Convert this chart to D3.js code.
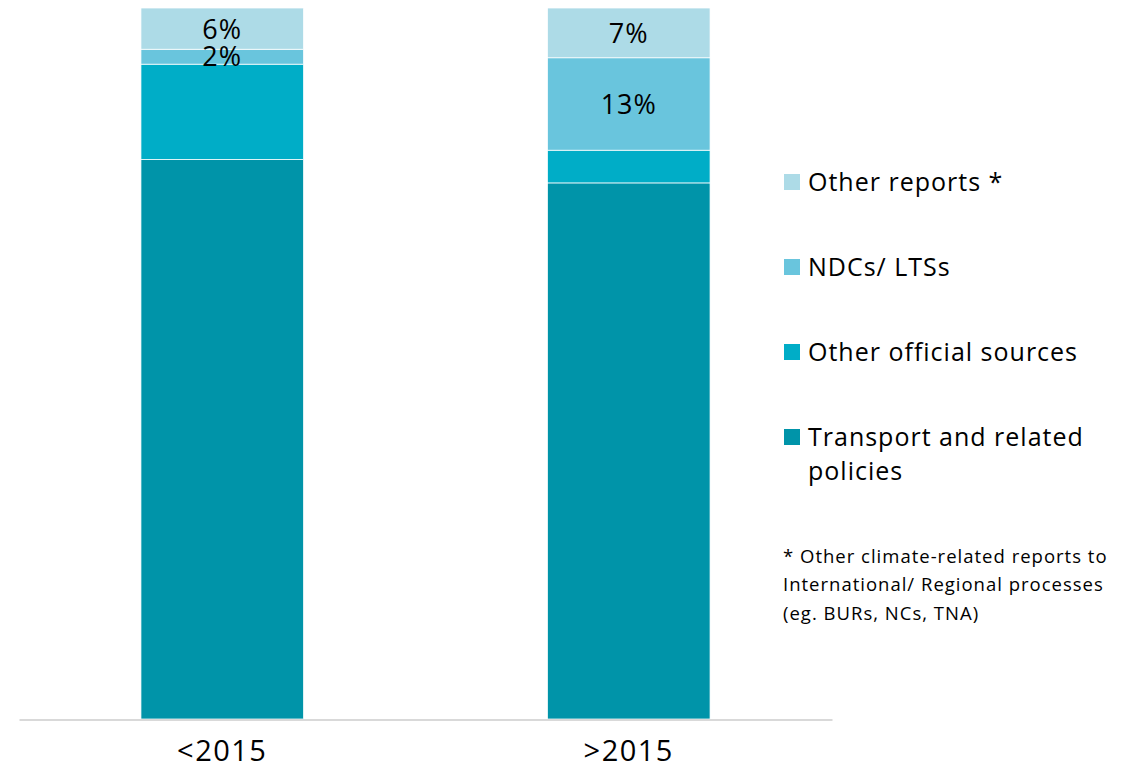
<!DOCTYPE html>
<html><head><meta charset="utf-8">
<script src="https://cdn.jsdelivr.net/npm/d3@7"></script>
<style>body{margin:0;background:#fff;} svg{display:block;}</style>
</head><body>
<svg id="c" width="1141" height="770"></svg>
<script>
const categories = ["<2015", ">2015"];
const seriesNames = ["Transport and related policies", "Other official sources", "NDCs/ LTSs", "Other reports *"];
const transport = [78.7, 75.4];
const otherOfficial = [13.4, 4.6];
const ndcs = [2.1, 13.0];
const otherReports = [5.8, 7.0];
const shownLabels = [[null, null, "2%", "6%"], [null, null, "13%", "7%"]];
const colors = ["#0094A9", "#00ADC7", "#69C5DD", "#ADDBE7"];
const footnote = ["* Other climate-related reports to", "International/ Regional processes", "(eg. BURs, NCs, TNA)"];

const font = "'Open Sans', 'Noto Sans', sans-serif";
const svg = d3.select("#c");
const rows = categories.map((c, i) => ({cat: c, s0: transport[i], s1: otherOfficial[i], s2: ndcs[i], s3: otherReports[i]}));
const keys = ["s0", "s1", "s2", "s3"];
const stack = d3.stack().keys(keys)(rows);

const x = d3.scaleBand().domain(categories).range([19, 832]).paddingInner(0.6).paddingOuter(0.3);
const y = d3.scaleLinear().domain([0, 100]).range([719, 8]);

stack.forEach((layer, li) => {
  svg.append("g").selectAll("rect").data(layer).join("rect")
    .attr("x", d => x(d.data.cat))
    .attr("width", x.bandwidth())
    .attr("y", d => y(d[1]))
    .attr("height", d => y(d[0]) - y(d[1]))
    .attr("fill", colors[li])
    .attr("stroke", "#fff").attr("stroke-width", 0.75);
});
stack.forEach((layer, li) => {
  svg.append("g").selectAll("text").data(layer.filter((d, i) => shownLabels[i][li])).join("text")
    .attr("x", d => x(d.data.cat) + x.bandwidth() / 2)
    .attr("y", d => (y(d[0]) + y(d[1])) / 2 + (li === 3 && d[1] - d[0] < 6.5 ? 1 : 0))
    .attr("dy", "0.36em")
    .attr("text-anchor", "middle")
    .attr("font-family", font).attr("font-size", 27).attr("letter-spacing", 1).attr("fill", "#000")
    .text(d => shownLabels[categories.indexOf(d.data.cat)][li]);
});

// axis
const xAxis = svg.append("g").attr("transform", "translate(0,719.5)").call(d3.axisBottom(x).tickSize(0).tickPadding(21));
xAxis.select(".domain").attr("stroke", "#d9d9d9").attr("stroke-width", 2);
xAxis.selectAll("text").attr("font-family", font).attr("font-size", 29).attr("letter-spacing", 1.5).attr("fill", "#000");

// legend
const legendOrder = [3, 2, 1, 0];
const lg = svg.append("g");
legendOrder.forEach((si, k) => {
  const cy = 182 + k * 85;
  lg.append("rect").attr("x", 784).attr("y", cy - 8).attr("width", 16).attr("height", 16).attr("fill", colors[si]);
  const t = lg.append("text").attr("x", 808).attr("y", cy).attr("dy", "0.36em")
    .attr("font-family", font).attr("font-size", 25).attr("letter-spacing", 1).attr("fill", "#000");
  if (si === 0) {
    t.append("tspan").attr("x", 808).text("Transport and related");
    t.append("tspan").attr("x", 808).attr("dy", 34).text("policies");
  } else t.text(seriesNames[si]);
});

footnote.forEach((line, i) => {
  svg.append("text").attr("x", 783).attr("y", 556 + i * 28.5).attr("dy", "0.36em")
    .attr("font-family", font).attr("font-size", 18.5).attr("letter-spacing", 1).attr("fill", "#000").text(line);
});
</script>
</body></html>
